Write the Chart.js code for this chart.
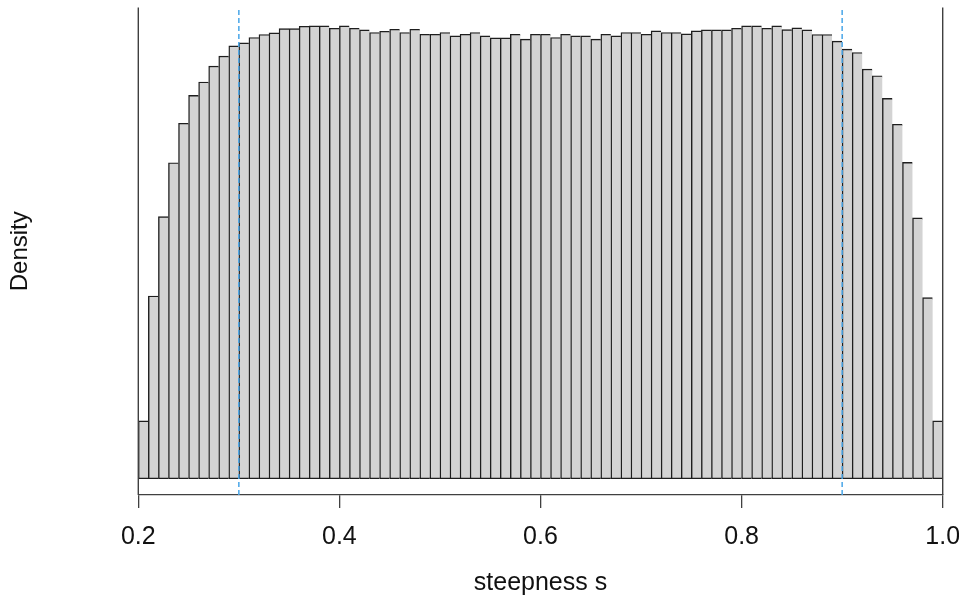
<!DOCTYPE html>
<html>
<head>
<meta charset="utf-8">
<script src="https://cdn.jsdelivr.net/npm/chart.js@4/dist/chart.umd.min.js"></script>
<style>
html,body{margin:0;padding:0;background:#ffffff;}
canvas{display:block;}
</style>
</head>
<body>
<canvas id="c" width="959" height="601"></canvas>
<script>
// Histogram breaks
const breakStart = 0.2;
const binWidth = 0.01;

// Density of each bin (80 bins from 0.20 to 1.00)
const density = [
  0.174, 0.550, 0.789, 0.951, 1.070, 1.154, 1.194, 1.242, 1.272, 1.303,
  1.312, 1.328, 1.337, 1.342, 1.355, 1.355, 1.362, 1.363, 1.363, 1.356,
  1.363, 1.356, 1.351, 1.343, 1.347, 1.353, 1.343, 1.353, 1.338, 1.338,
  1.343, 1.333, 1.338, 1.343, 1.333, 1.327, 1.327, 1.338, 1.323, 1.338,
  1.338, 1.328, 1.338, 1.333, 1.333, 1.323, 1.338, 1.333, 1.343, 1.343,
  1.338, 1.348, 1.343, 1.343, 1.339, 1.348, 1.351, 1.351, 1.351, 1.356,
  1.363, 1.363, 1.356, 1.363, 1.352, 1.357, 1.351, 1.337, 1.337, 1.317,
  1.293, 1.283, 1.233, 1.213, 1.145, 1.067, 0.952, 0.785, 0.545, 0.174
];

const tickValues = [0.2, 0.4, 0.6, 0.8, 1.0];
const tickLabels = ['0.2', '0.4', '0.6', '0.8', '1.0'];
const rangeLines = [0.2, 1.0];      // solid black verticals
const cutoffLines = [0.3, 0.9];     // blue dashed verticals
const xTitle = 'steepness s';
const yTitle = 'Density';

const binCenters = density.map((_, i) => +(breakStart + binWidth * (i + 0.5)).toFixed(3));

const Y_MIN = -0.049;
const Y_MAX = 1.4184;
const FONT = "'Liberation Sans', Arial, Helvetica, sans-serif";

const datasets = [];
datasets.push({
  type: 'bar',
  label: 'hist',
  data: binCenters.map((x, i) => ({ x: x, y: density[i] })),
  backgroundColor: '#D3D3D3',
  borderColor: '#1e1e1e',
  borderWidth: { left: 1.4, top: 1.4, bottom: 1.4, right: 0 },
  borderSkipped: false,
  barPercentage: 1,
  categoryPercentage: 1,
  order: 3
});
rangeLines.forEach(v => datasets.push({
  type: 'line',
  data: [{ x: v, y: Y_MIN }, { x: v, y: Y_MAX }],
  borderColor: '#404040',
  borderWidth: 1.4,
  pointRadius: 0,
  fill: false,
  clip: false,
  order: 2
}));
cutoffLines.forEach(v => datasets.push({
  type: 'line',
  data: [{ x: v, y: Y_MIN }, { x: v, y: Y_MAX }],
  borderColor: '#49A6E8',
  borderWidth: 1.5,
  borderDash: [5, 3],
  pointRadius: 0,
  fill: false,
  clip: false,
  order: 1
}));

new Chart(document.getElementById('c'), {
  type: 'bar',
  data: { datasets: datasets },
  options: {
    responsive: false,
    animation: false,
    devicePixelRatio: 1,
    layout: { padding: { top: 7.5, right: 16.3, bottom: 0, left: 0 } },
    plugins: { legend: { display: false }, tooltip: { enabled: false } },
    scales: {
      x: {
        type: 'linear',
        min: 0.2,
        max: 1.0,
        offset: false,
        grid: {
          display: true,
          drawOnChartArea: false,
          drawTicks: true,
          tickLength: 13,
          color: '#404040',
          lineWidth: 1.3,
          offset: false
        },
        border: { display: true, color: '#404040', width: 1.3 },
        afterBuildTicks: s => { s.ticks = tickValues.map(v => ({ value: v })); },
        ticks: {
          padding: 14.5,
          color: '#111111',
          maxRotation: 0,
          autoSkip: false,
          font: { family: FONT, size: 25 },
          callback: (v) => {
            const i = tickValues.findIndex(t => Math.abs(t - v) < 1e-9);
            return i >= 0 ? tickLabels[i] : '';
          }
        },
        title: {
          display: true,
          text: xTitle,
          color: '#111111',
          font: { family: FONT, size: 25 },
          padding: { top: 0, bottom: 3 }
        },
        afterFit: s => { s.height = 106; s.paddingLeft = 0; s.paddingRight = 0; }
      },
      y: {
        type: 'linear',
        min: Y_MIN,
        max: Y_MAX,
        grid: { display: false },
        border: { display: false },
        ticks: { display: false },
        title: {
          display: true,
          text: yTitle,
          color: '#111111',
          font: { family: FONT, size: 24 },
          padding: { top: 6, bottom: 0 }
        },
        afterFit: s => { s.width = 138.3; s.paddingTop = 0; s.paddingBottom = 0; }
      }
    }
  }
});
</script>
</body>
</html>
